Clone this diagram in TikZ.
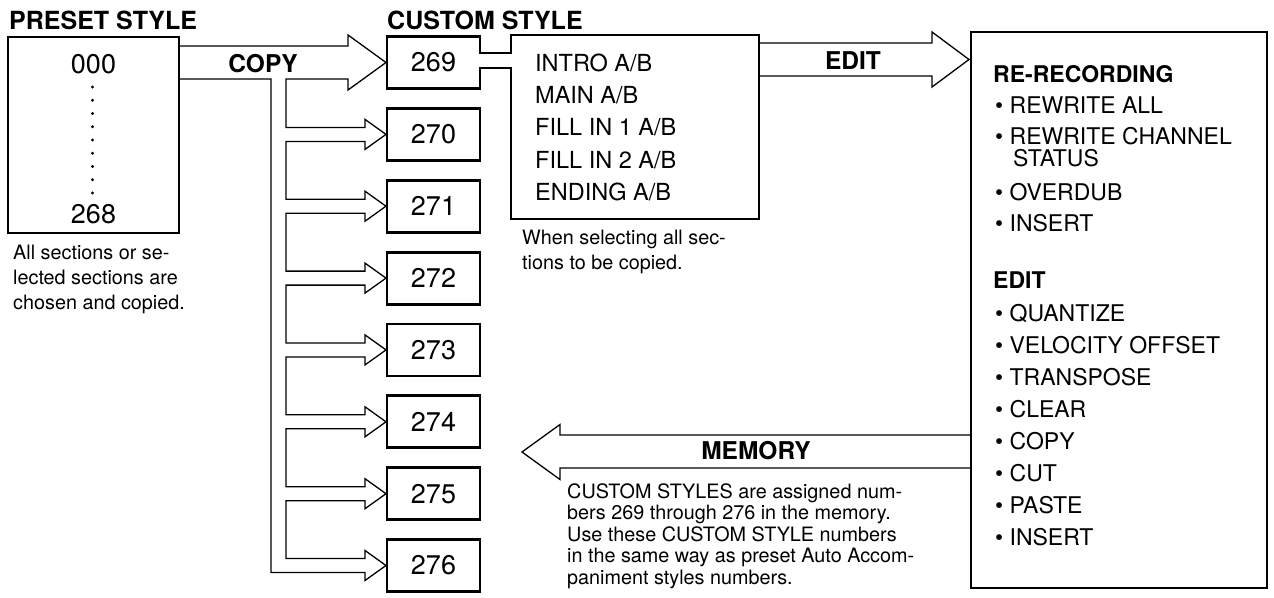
\documentclass[tikz,border=0pt]{standalone}
\usepackage{fontspec}
\setmainfont{TeX Gyre Heros}
\tikzset{
  boxl/.style={line width=2.8pt, line join=miter},
  thinl/.style={line width=1.3pt, line join=miter},
  boxn/.style={draw, line width=2.8pt, inner sep=0pt},
  ttl/.style={font=\bfseries\fontsize{25}{25}\selectfont, inner sep=0pt},
  lbl/.style={font=\bfseries\fontsize{24.5}{25}\selectfont, inner sep=0pt},
  numf/.style={font=\fontsize{27}{27}\selectfont, inner sep=0pt},
  secf/.style={font=\fontsize{23.5}{24}\selectfont, inner sep=0pt, anchor=base west},
  itf/.style={font=\fontsize{23}{23}\selectfont, inner sep=0pt, anchor=base west},
  capf/.style={font=\fontsize{19.8}{20}\selectfont, inner sep=0pt, anchor=base west},
}
\begin{document}
\begin{tikzpicture}[x=1pt,y=-1pt]
\useasboundingbox (0,0) rectangle (1274,597);
% titles
\node[ttl, anchor=base west] (tpre) at (9,29) {PRESET STYLE};
\node[ttl, anchor=base west] (tcus) at (387,29) {CUSTOM STYLE};
% preset box
\node[boxn, minimum width=171pt, minimum height=196pt] (pre) at (93.5,135) {};
\node[numf, anchor=base] (p000) at (93.5,73) {000};
\foreach \i in {0,...,8} \fill (92.5,87+13.25*\i) circle (1.6);
\node[numf, anchor=base] (p268) at (93.5,223) {268};
\node[capf] (pc1) at (13,259) {All sections or se-};
\node[capf] (pc2) at (13,284) {lected sections are};
\node[capf] (pc3) at (13,309) {chosen and copied.};
% COPY arrows
\node[lbl, anchor=base] (copy) at (263,72) {COPY};
\draw[thinl] (179,46) -- (348,46) -- (348,35) -- (386,62.5) -- (348,90) -- (348,79) -- (286,79)
  foreach \c in {134.4,206.2,278.1,349.9,421.8,493.7} {
    -- (286,\c-7) -- (365,\c-7) -- (365,\c-15) -- (386,\c) -- (365,\c+15) -- (365,\c+7) -- (286,\c+7) }
  -- (286,558.5) -- (365,558.5) -- (365,550.5) -- (386,565.5) -- (365,580.5) -- (365,572.5)
  -- (271,572.5) -- (271,79) -- (179,79);
% custom boxes
\node[numf, minimum width=93pt, minimum height=52pt] (c269) at (433.5,62.5) {269};
\foreach \n/\y in {270/134.4,271/206.2,272/278.1,273/349.9,274/421.8,275/493.7,276/565.5}
  \node[boxn, numf, minimum width=93pt, minimum height=52pt] (c\n) at (433.5,\y) {\n};
% 269 box joined to section box
\coordinate (sec) at (635,127);
\draw[boxl] (480,53) -- (511,53) -- (511,35) -- (759,35) -- (759,219) -- (511,219) -- (511,68)
  -- (480,68) -- (480,88.5) -- (387,88.5) -- (387,36.5) -- (480,36.5) -- cycle;
\node[secf] (s1) at (535,71.4) {INTRO A/B};
\node[secf] (s2) at (535,103.4) {MAIN A/B};
\node[secf] (s3) at (535,135.4) {FILL IN 1 A/B};
\node[secf] (s4) at (535,168.4) {FILL IN 2 A/B};
\node[secf] (s5) at (535,200.4) {ENDING A/B};
\node[capf] (sc1) at (522,244) {When selecting all sec-};
\node[capf] (sc2) at (522,269) {tions to be copied.};
% EDIT arrow
\draw[thinl] (759,43) -- (932,43) -- (932,32) -- (969,59.5) -- (932,87) -- (932,76) -- (759,76);
\node[lbl, anchor=base] (edit) at (853,69) {EDIT};
% right box
\node[boxn, minimum width=296pt, minimum height=556pt] (ed) at (1119,310) {};
\node[ttl, font=\bfseries\fontsize{23}{23}\selectfont, anchor=base west] (rr) at (993,82) {RE-RECORDING};
\node[itf] (r1) at (995,113) {• REWRITE ALL};
\node[itf] (r2) at (995,144) {• REWRITE CHANNEL};
\node[itf] (r2b) at (1013,166) {STATUS};
\node[itf] (r3) at (995,200) {• OVERDUB};
\node[itf] (r4) at (995,231) {• INSERT};
\node[ttl, font=\bfseries\fontsize{23}{23}\selectfont, anchor=base west] (ee) at (993,288) {EDIT};
\node[itf] (e1) at (995,321) {• QUANTIZE};
\node[itf] (e2) at (995,353) {• VELOCITY OFFSET};
\node[itf] (e3) at (995,385) {• TRANSPOSE};
\node[itf] (e4) at (995,417) {• CLEAR};
\node[itf] (e5) at (995,449) {• COPY};
\node[itf] (e6) at (995,481) {• CUT};
\node[itf] (e7) at (995,513) {• PASTE};
\node[itf] (e8) at (995,545) {• INSERT};
% MEMORY arrow
\draw[thinl] (971,435) -- (560,435) -- (560,424.5) -- (522,452) -- (560,479.5) -- (560,468) -- (971,468);
\node[lbl, anchor=base] (mem) at (756,459) {MEMORY};
\node[capf] (m1) at (567,498) {CUSTOM STYLES are assigned num-};
\node[capf] (m2) at (567,519.5) {bers 269 through 276 in the memory.};
\node[capf] (m3) at (567,541) {Use these CUSTOM STYLE numbers};
\node[capf] (m4) at (567,562.5) {in the same way as preset Auto Accom-};
\node[capf] (m5) at (567,584) {paniment styles numbers.};
\end{tikzpicture}
\end{document}
